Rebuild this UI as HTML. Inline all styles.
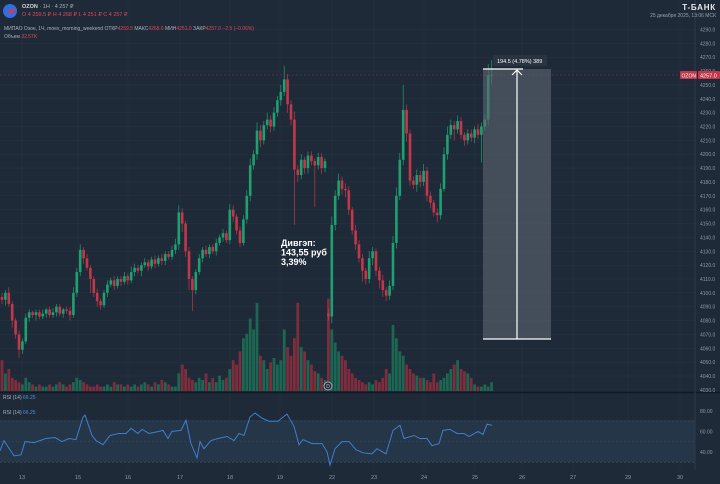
<!DOCTYPE html>
<html><head><meta charset="utf-8">
<style>
body{margin:0;background:#1e2a38;width:720px;height:484px;overflow:hidden;font-family:"Liberation Sans","Noto Sans CJK SC",sans-serif}
svg{display:block}
text{font-family:"Liberation Sans","Noto Sans CJK SC",sans-serif}
</style></head><body>
<svg width="720" height="484" id="chart">
<rect width="720" height="484" fill="#1e2a38"/>
<g id="grid"></g>
<rect x="0" y="420" width="695" height="42" fill="#26394c" opacity="0.8"/>
<g id="vol"></g>
<g id="candles"></g>
<line x1="0" y1="75" x2="695" y2="75" stroke="#c2374a" stroke-width="0.6" stroke-dasharray="2,2" opacity="0.7"/>
<g>
<rect x="483" y="69" width="68" height="270" fill="#5d6672" opacity="0.6"/>
<line x1="483" y1="69" x2="523" y2="69" stroke="#fff" stroke-width="1.2"/>
<line x1="483" y1="339" x2="551" y2="339" stroke="#fff" stroke-width="1.2"/>
<line x1="517" y1="339" x2="517" y2="70" stroke="#fff" stroke-width="1.2"/>
<polyline points="512,75 517,70 522,75" fill="none" stroke="#fff" stroke-width="1.2"/>
<rect x="493" y="55" width="54" height="11" fill="#2a3440"/>
<text x="497" y="63" font-size="5.5" fill="#fff">194.5 (4.78%) 389</text>
</g>
<text x="281" y="246" font-size="9" font-weight="bold" fill="#fff"><tspan x="281">Дивгэп:</tspan><tspan x="281" dy="9.5">143,55 руб</tspan><tspan x="281" dy="9.5">3,39%</tspan></text>
<circle cx="328" cy="386" r="4" fill="#1e2a38" stroke="#aab" stroke-width="1"/>
<text x="326.3" y="388" font-size="5" fill="#ccd">D</text>
<line x1="0" y1="392.5" x2="720" y2="392.5" stroke="#111a24" stroke-width="1.5"/>
<g id="rsi"></g>
<line x1="695" y1="0" x2="695" y2="470" stroke="#2c3a4a" stroke-width="1"/>
<g id="yaxis"></g>
<g id="xaxis"></g>
<rect x="680" y="71" width="17" height="8" fill="#c2374a" rx="1"/>
<text x="681.5" y="77.3" font-size="5" fill="#fff">OZON</text>
<rect x="698" y="71" width="22" height="8" fill="#c2374a" rx="1"/>
<text x="700" y="77.3" font-size="5.5" fill="#fff">4257.0</text>
<g>
<circle cx="10" cy="11" r="7" fill="#2f6fe0"/>
<path d="M5,13 L15,8 L14,13 Z" fill="#e2334e"/>
<text x="22" y="8" font-size="5.5" font-weight="bold" fill="#d6dbe2">OZON <tspan font-weight="normal" fill="#aab3bf"> · 1H · 4 257 ₽</tspan></text>
<text x="22" y="16" font-size="5.5" fill="#e0475c">О 4 259.5 ₽  Н 4 268 ₽  L 4 251 ₽  С 4 257 ₽</text>
<text x="4" y="30" font-size="5" fill="#aab3bf">МИПАО Озон, 1Ч, moex_morning_weekend  ОТКР<tspan fill="#e0475c">4259.5</tspan>  МАКС<tspan fill="#e0475c">4268.0</tspan>  МИН<tspan fill="#e0475c">4251.0</tspan>  ЗАКР<tspan fill="#e0475c">4257.0  −2.5 (−0.06%)</tspan></text>
<text x="4" y="38" font-size="5" fill="#aab3bf">Объем  <tspan fill="#e0475c">32.57K</tspan></text>
<text x="716" y="10" font-size="8" font-weight="bold" fill="#e6e9ee" text-anchor="end" letter-spacing="0.8">T-БАНК</text>
<text x="716" y="17" font-size="5" fill="#9aa4b0" text-anchor="end">25 декабря 2025, 13:06 МСК</text>
</g>
<text x="3" y="399" font-size="5" fill="#aab3bf">RSI (14) <tspan fill="#4a8fe0">66.25</tspan></text>
<text x="3" y="414" font-size="5" fill="#aab3bf">RSI (14) <tspan fill="#4a8fe0">66.25</tspan></text>
</svg>
<script>
const closes=[4095,4100,4092,4080,4070,4059,4065,4082,4086,4084,4086,4083,4085,4088,4084,4086,4090,4085,4088,4087,4084,4100,4115,4131,4125,4118,4110,4100,4094,4091,4100,4106,4109,4105,4110,4108,4112,4109,4115,4118,4116,4120,4122,4119,4124,4121,4125,4123,4128,4126,4131,4135,4158,4150,4130,4110,4102,4115,4125,4131,4128,4133,4130,4136,4140,4143,4138,4160,4155,4145,4136,4153,4170,4192,4200,4217,4210,4221,4225,4220,4230,4239,4245,4254,4236,4225,4189,4185,4196,4190,4199,4195,4192,4198,4190,4195,4083,4149,4170,4181,4175,4174,4160,4145,4135,4125,4116,4110,4125,4130,4116,4109,4102,4098,4105,4136,4170,4196,4232,4215,4181,4178,4185,4180,4188,4170,4165,4158,4156,4175,4200,4214,4221,4218,4224,4214,4210,4215,4212,4218,4214,4220,4225,4257,4257];
const gapIndex=[96];
const gapOpens=[4085];
const wickUp=[3,2,4,2,2,3,2,3,2,1,2,2,3,1,2,3,2,2,1,2,3,4,3,4,2,3,2,2,3,2,2,3,2,3,2,2,3,2,4,3,2,2,3,2,2,3,2,3,2,2,3,4,5,3,2,3,2,2,3,2,3,2,2,3,2,3,2,4,3,2,3,3,4,5,3,6,4,3,5,3,4,3,5,10,4,3,6,3,4,2,3,3,2,3,3,2,4,6,4,5,3,4,3,2,4,3,3,2,5,3,2,3,4,2,4,5,6,5,18,4,3,3,4,3,5,3,3,2,3,4,5,6,4,3,4,3,2,3,3,2,4,3,4,8,11];
const wickDn=[3,4,2,5,3,6,3,2,3,2,4,2,2,3,2,2,3,2,3,2,4,2,3,3,4,2,10,3,4,3,2,3,2,3,2,3,2,3,2,3,2,4,2,3,2,3,2,3,3,2,2,3,4,6,4,8,15,3,2,3,2,3,2,3,2,3,2,3,4,3,3,2,3,4,3,4,5,3,3,4,3,3,4,3,6,4,40,5,3,4,4,3,30,3,4,3,3,5,4,3,4,5,4,3,4,3,8,4,3,5,4,6,5,4,3,3,4,3,4,6,4,3,5,4,3,4,4,3,5,3,2,4,3,8,3,3,4,3,3,4,3,20,3,4,6];
const volumes=[14,8,10,6,5,4,3,6,4,3,2,3,2,2,3,2,3,4,3,2,3,4,6,5,4,3,2,2,3,2,2,3,2,4,3,3,2,3,2,3,2,3,4,3,2,4,3,5,4,3,2,2,8,12,10,6,5,4,6,5,8,4,6,4,7,5,6,10,14,12,18,24,26,33,28,40,16,14,10,13,15,12,14,28,20,16,24,40,20,18,14,12,9,8,6,5,42,28,22,18,16,14,10,8,6,5,4,3,4,3,5,4,6,10,8,30,24,18,16,12,10,8,7,6,6,5,4,8,4,5,6,8,10,12,14,10,9,8,6,3,2,2,3,2,4,25,14,10];
const rsiX=[0,4,14,21,25,34,46,55,62,69,76,83,85,92,96,103,110,119,126,131,138,142,149,159,163,168,172,181,186,191,197,200,204,211,218,227,234,239,244,250,255,262,269,278,283,287,294,299,303,312,322,327,330,335,342,349,356,363,372,377,386,393,400,404,414,420,427,432,439,443,450,457,464,469,478,483,487,492];
const rsiV=[41,51,36,37,50,49,53,54,50,53,52,74,76,56,51,47,56,58,58,63,58,62,58,60,61,53,60,61,71,48,34,50,43,51,53,55,51,58,56,74,78,73,70,70,74,77,65,47,52,48,48,40,27,43,50,50,42,39,38,43,38,61,66,53,56,53,53,46,48,61,62,58,58,55,60,57,67,66];
const priceTicks=[4290,4280,4270,4260,4250,4240,4230,4220,4210,4200,4190,4180,4170,4160,4150,4140,4130,4120,4110,4100,4090,4080,4070,4060,4050,4040,4030];
const rsiTicks=[80,60,40];
const dayLabels=["13","15","16","17","18","19","22","23","24","25","26","27","29","30"];
const dayX=[22,78,128,180,230,280,332,374,424,475,522,573,628,680];

const NS="http://www.w3.org/2000/svg";
const py=p=>29.5+(4290-p)*1.386;
const cx=i=>2+i*3.4;
const ry=v=>411+(80-v)*1.02;
const volY=v=>391-v*2.2;
function mk(tag,attrs,parent){const e=document.createElementNS(NS,tag);for(const k in attrs)e.setAttribute(k,attrs[k]);parent.appendChild(e);return e;}
const grid=document.getElementById('grid'),yax=document.getElementById('yaxis'),xax=document.getElementById('xaxis');
priceTicks.forEach(p=>{
  const l=mk('line',{x1:0,x2:695,y1:py(p),y2:py(p),stroke:'#26333f','stroke-width':0.6},grid);
  
  
  const t=mk('text',{x:700,y:py(p)+2,'font-size':5,fill:'#8f99a6'},yax);
  t.textContent=p.toFixed(1);
  
  
});
dayLabels.forEach((d,i)=>{
  const l=mk('line',{x1:dayX[i],x2:dayX[i],y1:0,y2:470,stroke:'#26333f','stroke-width':0.6},grid);
  
  
  const t=mk('text',{x:dayX[i],y:479,'font-size':5.5,fill:'#8f99a6','text-anchor':'middle'},xax);
  t.textContent=d;
  
  
});
[70,50,30].forEach(v=>{
  const l=mk('line',{x1:0,x2:695,y1:ry(v),y2:ry(v),stroke:'#6f7f90','stroke-width':0.6,'stroke-dasharray':'2,2'},grid);
  
  
});
rsiTicks.forEach(v=>{
  const t=mk('text',{x:700,y:ry(v)+2,'font-size':5,fill:'#8f99a6'},yax);
  t.textContent=v.toFixed(2);
  
  
});
const cg=document.getElementById('candles'),vg=document.getElementById('vol');
closes.forEach((c,i)=>{
  const gi=gapIndex.indexOf(i);
  const o=gi>=0?gapOpens[gi]:(i?closes[i-1]:4097);
  const up=c>=o, col=up?'#1fa071':'#c2374a';
  const hi=Math.max(o,c)+wickUp[i], lo=Math.min(o,c)-wickDn[i];
  const w=mk('line',{x1:cx(i),x2:cx(i),y1:py(hi),y2:py(lo),stroke:col,'stroke-width':0.7},cg);
  
  
  const top=py(Math.max(o,c)),h=Math.max(0.8,Math.abs(py(o)-py(c)));
  const b=mk('rect',{x:cx(i)-1.3,y:top,width:2.6,height:h,fill:col},cg);
  
  
  const vb=mk('rect',{x:cx(i)-1.4,y:volY(volumes[i]),width:2.8,height:391-volY(volumes[i]),fill:up?'#1d6e55':'#8a2e3d',opacity:0.9},vg);
  
  
});
const pts=rsiX.map((x,i)=>x+','+ry(rsiV[i])).join(' ');
const pl=mk('polyline',{points:pts,fill:'none',stroke:'#3f7fd0','stroke-width':1},document.getElementById('rsi'));


</script>
</body></html>
